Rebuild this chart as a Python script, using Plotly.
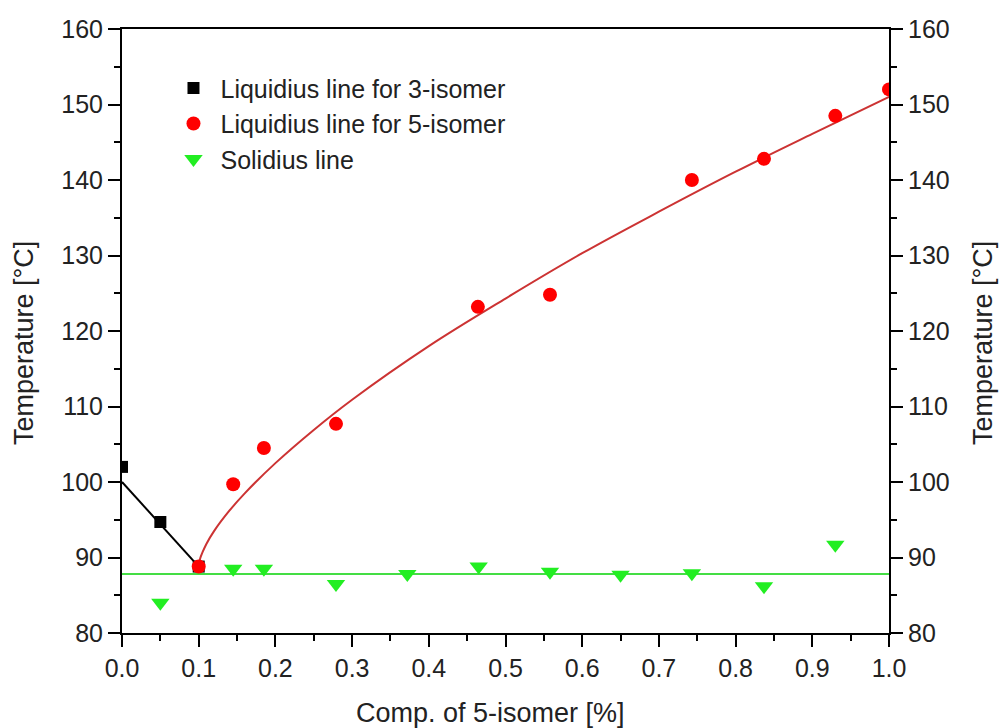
import plotly.graph_objects as go

# 3-isomer liquidus: measured points and its linear trend
iso3_x = [0.0, 0.05, 0.1]
iso3_t = [102.0, 94.7, 88.8]
iso3_fit_x = [0.0, 0.1]
iso3_fit_t = [100.0, 88.8]

# 5-isomer liquidus: measured points and the fitted curve
iso5_x = [0.1, 0.145, 0.185, 0.279, 0.464, 0.558, 0.743, 0.837, 0.930, 1.0]
iso5_t = [88.8, 99.7, 104.5, 107.7, 123.2, 124.8, 140.0, 142.8, 148.5, 152.0]
iso5_fit_x = [0.1, 0.102, 0.105, 0.11, 0.12, 0.14, 0.16, 0.2, 0.25, 0.3,
              0.4, 0.5, 0.6, 0.7, 0.8, 0.9, 1.0]
iso5_fit_t = [89.0, 89.9, 90.7, 91.8, 93.5, 96.2, 98.5, 102.5, 106.9, 110.9,
              118.0, 124.3, 130.3, 135.8, 141.1, 146.1, 151.0]

# Solidus: measured points and the mean level
sol_x = [0.05, 0.145, 0.185, 0.279, 0.372, 0.465, 0.558, 0.650, 0.743, 0.837, 0.930]
sol_t = [84.0, 88.5, 88.5, 86.5, 87.8, 88.8, 88.1, 87.7, 87.9, 86.2, 91.7]
sol_fit_x = [0.0, 1.0]
sol_fit_t = [87.8, 87.8]

FONT = "Liberation Sans, Arial, sans-serif"
BLACK = "#000000"
RED = "#ff0000"
RED_LINE = "#cc3333"
GREEN = "#22ee22"
GREEN_LINE = "#44dd44"

fig = go.Figure()

fig.add_trace(go.Scatter(x=sol_fit_x, y=sol_fit_t, mode="lines",
                         line=dict(color=GREEN_LINE, width=2), showlegend=False))
fig.add_trace(go.Scatter(x=iso3_fit_x, y=iso3_fit_t, mode="lines",
                         line=dict(color=BLACK, width=2), showlegend=False))
fig.add_trace(go.Scatter(x=iso5_fit_x, y=iso5_fit_t, mode="lines",
                         line=dict(color=RED_LINE, width=2, shape="spline"),
                         showlegend=False))

fig.add_trace(go.Scatter(x=iso3_x, y=iso3_t, mode="markers",
                         name="Liquidius line for 3-isomer", legendgroup="a",
                         marker=dict(symbol="square", size=12, color=BLACK)))
fig.add_trace(go.Scatter(x=iso5_x, y=iso5_t, mode="markers",
                         name="Liquidius line for 5-isomer", legendgroup="b",
                         marker=dict(symbol="circle", size=14, color=RED)))
fig.add_trace(go.Scatter(x=sol_x, y=sol_t, mode="markers",
                         name="Solidius line", legendgroup="c",
                         marker=dict(symbol="triangle-down", size=16, color=GREEN)))

# invisible trace so the right-hand temperature axis is drawn
fig.add_trace(go.Scatter(x=[0.5], y=[120], yaxis="y2", mode="markers",
                         marker=dict(opacity=0), showlegend=False, hoverinfo="skip"))

axis_common = dict(
    showgrid=False, zeroline=False,
    showline=True, linecolor=BLACK, linewidth=2,
    ticks="outside", ticklen=12, tickwidth=2, tickcolor=BLACK,
    tickfont=dict(family=FONT, size=25, color="#222222"),
)

fig.update_layout(
    width=1000, height=728,
    margin=dict(l=122, r=111, t=29, b=95),
    paper_bgcolor="white", plot_bgcolor="white",
    font=dict(family=FONT, color="#222222"),
    xaxis=dict(range=[0, 1], dtick=0.1, tick0=0, tickformat=".1f", mirror=True,
               minor=dict(dtick=0.05, ticklen=6, tickwidth=2, tickcolor=BLACK,
                          ticks="outside"),
               **axis_common),
    yaxis=dict(range=[80, 160], dtick=10, tick0=80,
               minor=dict(dtick=5, ticklen=6, tickwidth=2, tickcolor=BLACK,
                          ticks="outside"),
               **axis_common),
    yaxis2=dict(range=[80, 160], dtick=10, tick0=80, overlaying="y", side="right",
                anchor="x",
                minor=dict(dtick=5, ticklen=6, tickwidth=2, tickcolor=BLACK,
                           ticks="outside"),
                **axis_common),
    legend=dict(x=0.058, y=0.94, xanchor="left", yanchor="top",
                bgcolor="rgba(0,0,0,0)", tracegroupgap=0, itemwidth=44,
                font=dict(family=FONT, size=25, color="#222222")),
    showlegend=True,
)

# axis titles
title_font = dict(family=FONT, size=27, color="#222222")
fig.add_annotation(text="Comp. of 5-isomer [%]", xref="paper", yref="paper",
                   x=0.48, y=0, yshift=-63, xanchor="center", yanchor="top",
                   showarrow=False, font=title_font)
fig.add_annotation(text="Temperature [°C]", xref="paper", yref="paper",
                   x=0, y=0.48, xshift=-98, xanchor="center", yanchor="middle",
                   textangle=-90, showarrow=False, font=title_font)
fig.add_annotation(text="Temperature [°C]", xref="paper", yref="paper",
                   x=1, y=0.48, xshift=94, xanchor="center", yanchor="middle",
                   textangle=-90, showarrow=False, font=title_font)

fig.write_html("out.html")
